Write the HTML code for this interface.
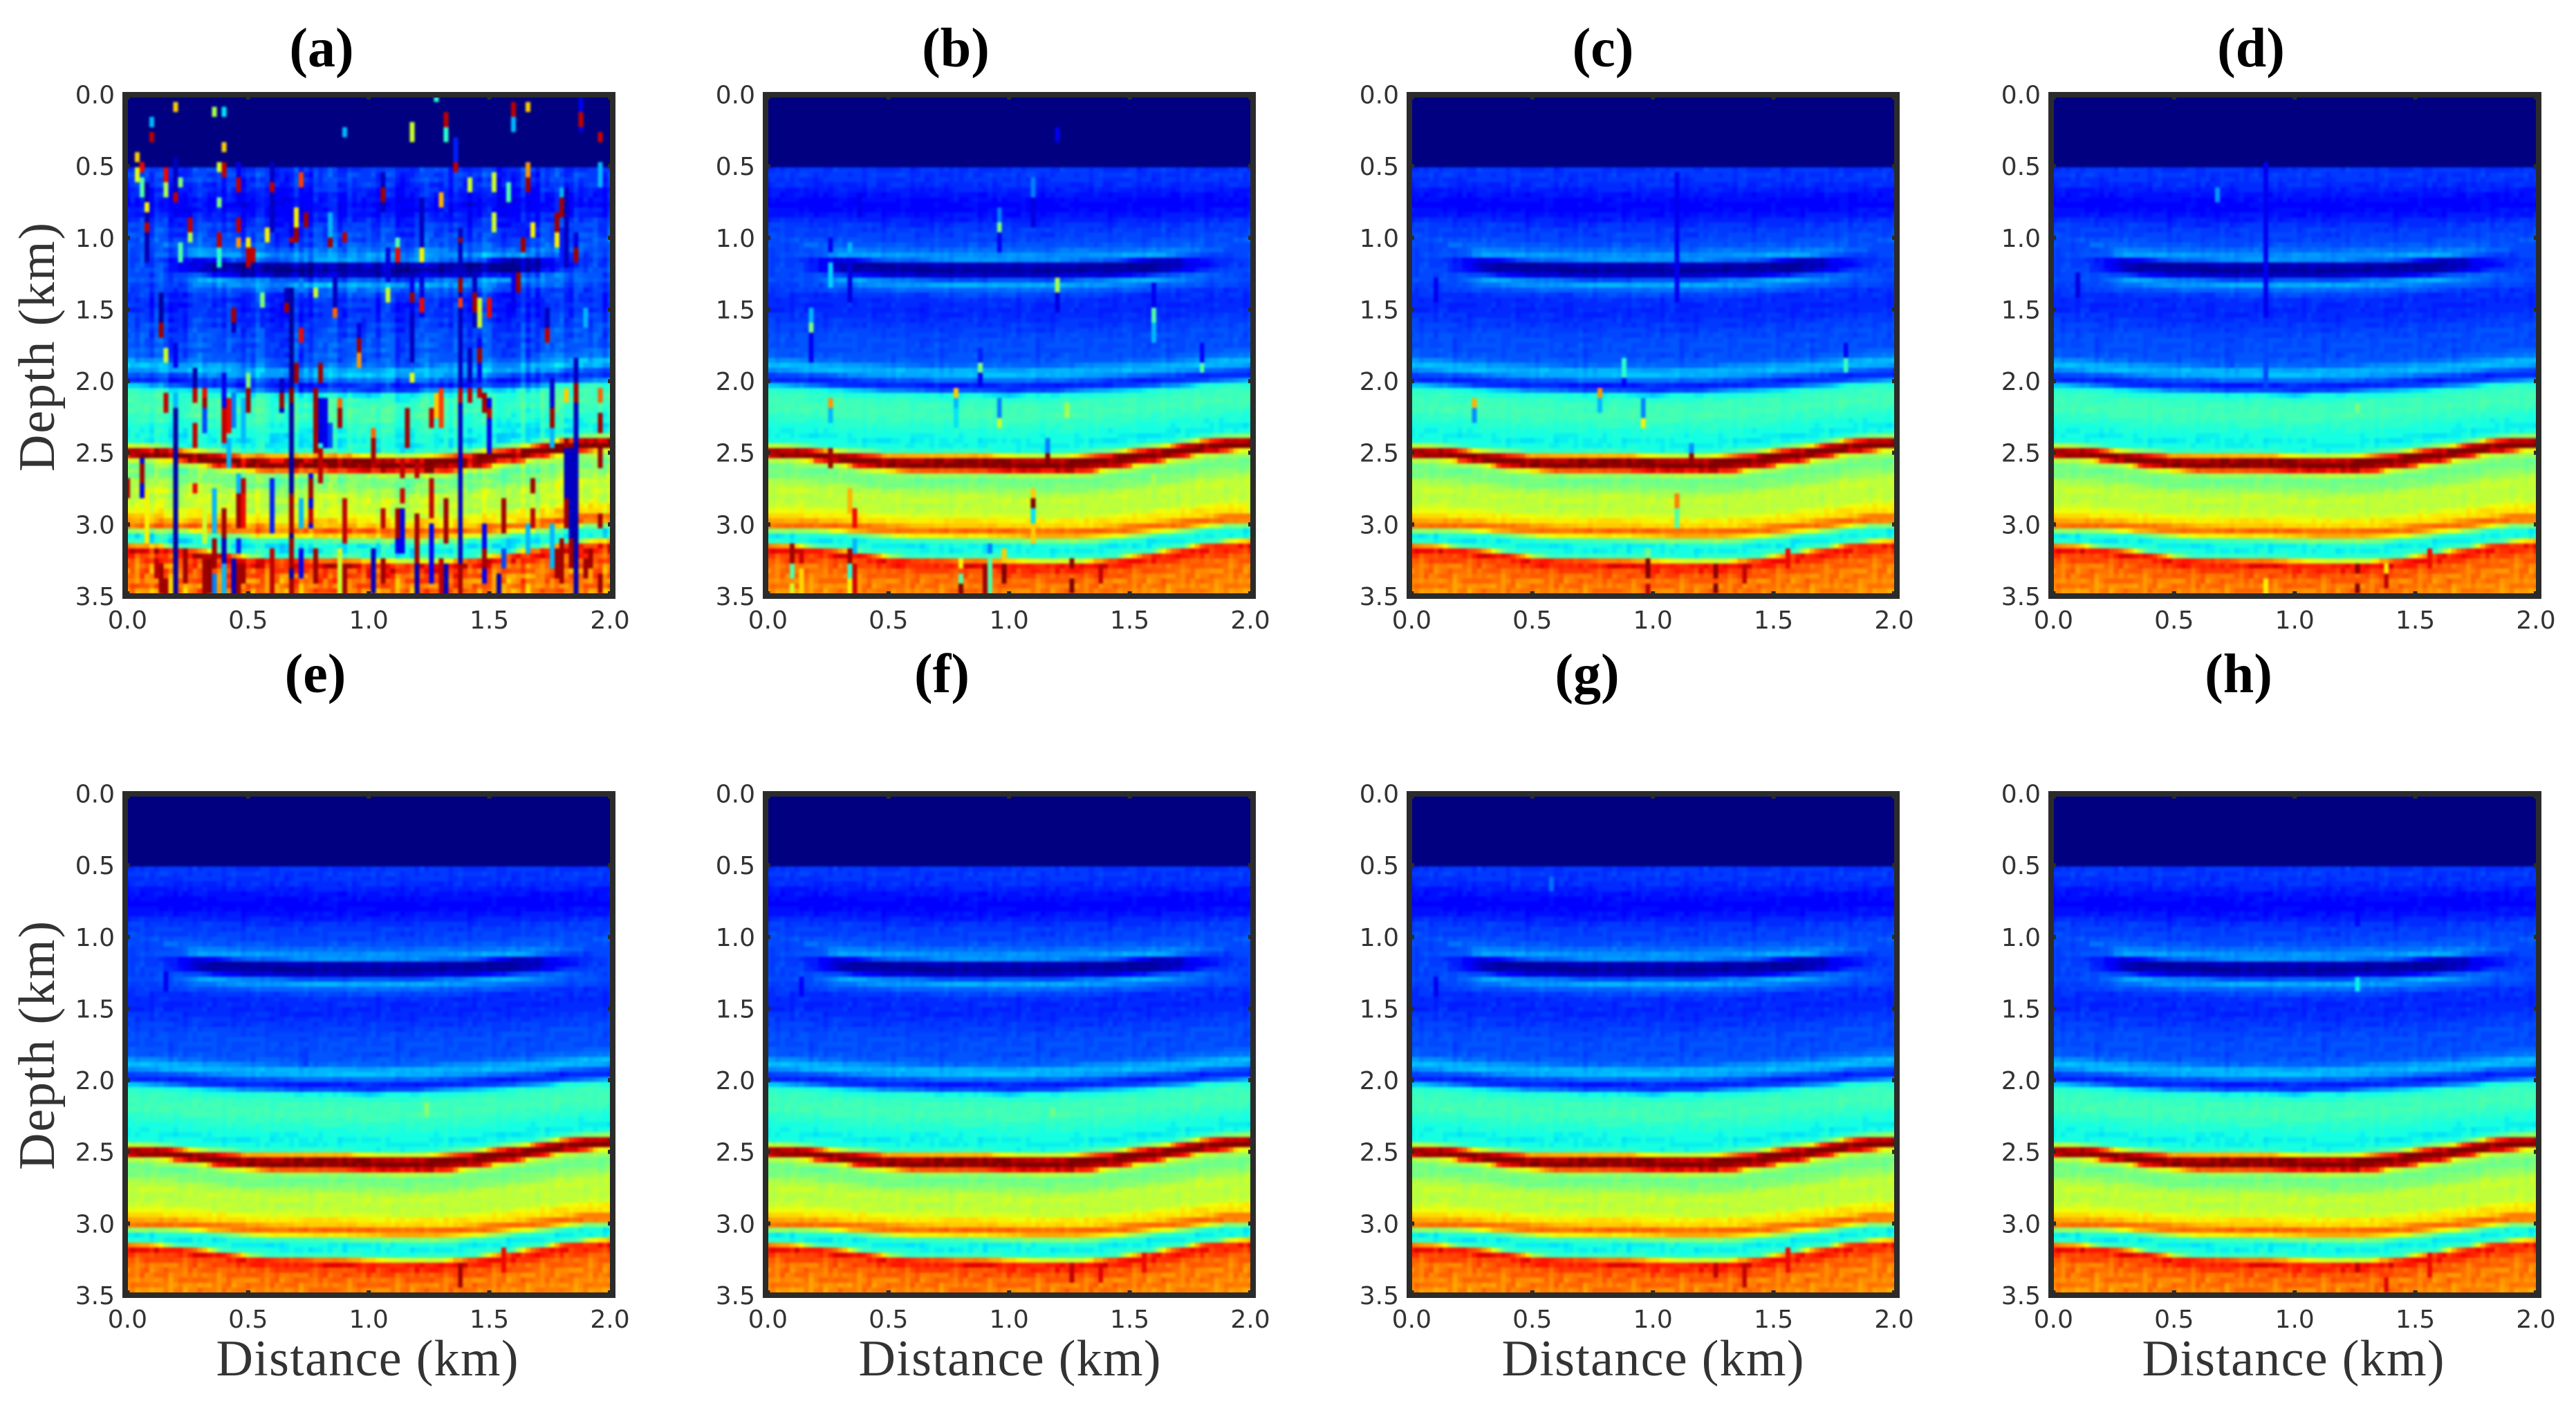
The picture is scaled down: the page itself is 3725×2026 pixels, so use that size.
<!DOCTYPE html>
<html lang="en">
<head>
<meta charset="utf-8">
<title>Seismic depth sections (a)-(h)</title>
<style>
html,body{margin:0;padding:0;background:#fff;}
svg{display:block;}
.tick{font-family:"DejaVu Sans","Liberation Sans",sans-serif;font-size:36px;fill:#333;}
.title{font-family:"Liberation Serif",serif;font-size:80px;font-weight:bold;fill:#000;text-anchor:middle;}
.axis{font-family:"Liberation Serif",serif;font-size:74px;fill:#333;text-anchor:middle;}
</style>
</head>
<body>
<svg id="figure" xmlns="http://www.w3.org/2000/svg" width="3725" height="2026" viewBox="0 0 3725 2026">
  <defs>
    <filter id="soften" color-interpolation-filters="sRGB"><feGaussianBlur stdDeviation="1.5"/></filter>
  </defs>
  <rect width="3725" height="2026" fill="#fff"/>
  <g id="panels"></g>
  <text class="title" x="465" y="96">(a)</text>
  <text class="title" x="1382" y="96">(b)</text>
  <text class="title" x="2318" y="96">(c)</text>
  <text class="title" x="3255" y="96">(d)</text>
  <text class="title" x="456" y="1001">(e)</text>
  <text class="title" x="1362" y="1001">(f)</text>
  <text class="title" x="2295" y="1001">(g)</text>
  <text class="title" x="3237" y="1001">(h)</text>
  <text class="axis" textLength="360" lengthAdjust="spacing" transform="translate(78,502) rotate(-90)">Depth (km)</text>
  <text class="axis" textLength="360" lengthAdjust="spacing" transform="translate(78,1512) rotate(-90)">Depth (km)</text>
  <text class="axis" x="531" y="1989" textLength="437" lengthAdjust="spacing">Distance (km)</text>
  <text class="axis" x="1460" y="1989" textLength="437" lengthAdjust="spacing">Distance (km)</text>
  <text class="axis" x="2390" y="1989" textLength="437" lengthAdjust="spacing">Distance (km)</text>
  <text class="axis" x="3316" y="1989" textLength="437" lengthAdjust="spacing">Distance (km)</text>
</svg>
<script>
/* ---------- tick labels ---------- */
const xTicks = [0, 0.5, 1, 1.5, 2];
const yTicks = [0, 0.5, 1, 1.5, 2, 2.5, 3, 3.5];

/* ---------- reference depth trace: value read along a vertical section ---------- */
const traceDepths = [0,.497,.503,.55,.62,.7,.78,.86,.92,1,1.05,1.1,1.13,1.15,1.165,1.19,1.23,1.25,1.27,1.3,1.34,1.4,1.5,1.6,1.7,1.8,1.86,1.9,1.93,1.97,2,2.03,2.05,2.07,2.12,2.2,2.28,2.36,2.41,2.43,2.44,2.45,2.46,2.47,2.49,2.5,2.51,2.52,2.535,2.54,2.56,2.6,2.66,2.72,2.76,2.82,2.88,2.92,2.96,2.985,3,3.015,3.03,3.05,3.07,3.1,3.14,3.165,3.18,3.19,3.2,3.22,3.26,3.32,3.5,3.7];
const traceValues = [0,0,.17,.18,.17,.14,.12,.15,.18,.19,.21,.26,.3,.2,.06,.025,.03,.08,.18,.31,.23,.17,.16,.18,.2,.2,.22,.3,.31,.22,.15,.17,.28,.38,.42,.43,.39,.36,.38,.52,.62,.85,.93,.97,1,1,.98,.95,.85,.65,.55,.48,.5,.57,.59,.57,.6,.66,.68,.78,.8,.79,.7,.55,.4,.36,.38,.42,.7,.82,.88,.89,.83,.79,.76,.76];

/* ---------- horizon depths (km) read every 0.1 km of distance ---------- */
const horizonDistances = [0,.1,.2,.3,.4,.5,.6,.7,.8,.9,1,1.1,1.2,1.3,1.4,1.5,1.6,1.7,1.8,1.9,2];
const seabedDepths = [.5,.5,.5,.5,.5,.5,.5,.5,.5,.5,.5,.5,.5,.5,.5,.5,.5,.5,.5,.5,.5];
const lensDepths = [1.17,1.17,1.18,1.19,1.2,1.21,1.21,1.22,1.22,1.22,1.22,1.22,1.22,1.21,1.21,1.2,1.19,1.18,1.17,1.16,1.15];
const greenTopDepths = [2.02,2.03,2.04,2.05,2.06,2.07,2.07,2.08,2.08,2.08,2.09,2.08,2.08,2.07,2.06,2.05,2.04,2.03,2.01,2,1.99];
const mainTopDepths = [2.455,2.46,2.475,2.49,2.505,2.515,2.515,2.515,2.515,2.515,2.52,2.525,2.525,2.515,2.505,2.48,2.46,2.44,2.41,2.395,2.39];
const mainBaseDepths = [2.535,2.54,2.56,2.58,2.61,2.625,2.63,2.63,2.63,2.63,2.64,2.645,2.645,2.64,2.62,2.595,2.57,2.54,2.51,2.49,2.48];
const lowerBandDepths = [3,3,3,3.01,3.02,3.03,3.04,3.04,3.04,3.04,3.045,3.05,3.05,3.05,3.04,3.03,3.01,3,2.98,2.96,2.96];
const deepBandDepths = [3.16,3.165,3.18,3.2,3.22,3.25,3.26,3.265,3.27,3.27,3.28,3.285,3.285,3.285,3.27,3.245,3.22,3.19,3.16,3.14,3.13];
const horizonReference = [.5,1.2,2.05,2.44,2.54,3,3.2];
const lensStrength = [0,0,.25,.9,1,1,1,1,1,1,1,1,1,1,1,1,1,.8,.4,.12,0];

/* ---------- small speckle table (typed values, -1..1) ---------- */
const speckle = [.4,-.7,.2,.9,-.3,-.9,.6,.1,-.5,.8,-.1,.3,-.8,.5,-.4,1,-.6,.2,-.2,.7,-1,.4,.1,-.7,.9,-.3,.6,-.5,.2,-.9,.8,0,-.4,.5,-.8,.3,.7,-.2,-.6,.9,-.1,.4,-.9,.6,.2,-.5,.3];
const speckleAmount = [.024,.012,.012,.012,.012,.012,.012,.012];
const stripeAmount = [.035,.007,.006,.005,.004,.004,.004,.004];

/* ---------- isolated trace artefacts per panel: [distance, fromDepth, toDepth, value] ---------- */
const spikesA = [[0,2.7,2.8,.97],[.04,.43,.47,.7],[.04,.52,.58,.62],[.06,.5,.53,.9],[.06,.58,.7,.45],[.06,2.55,2.8,.1],[.06,2.6,2.7,.97],[.08,.62,1.15,.04],[.08,.78,.8,.65],[.08,.9,.93,.95],[.08,2.75,3.1,.65],[.1,.16,.22,.3],[.1,.28,.32,.95],[.12,3.25,3.35,.95],[.14,1.4,1.65,.03],[.14,1.6,1.67,.97],[.14,3.3,3.45,.97],[.16,.54,.6,.9],[.16,.64,.7,.55],[.16,1.65,1.85,.2],[.16,1.8,1.86,.6],[.16,2.1,2.2,.95],[.16,3.4,3.5,.97],[.2,.07,.12,.7],[.2,.47,.75,.05],[.2,.7,.75,.95],[.2,1.75,1.9,.1],[.2,2.1,2.2,.3],[.2,2.22,3.5,.03],[.22,.58,.62,.5],[.22,1.05,1.16,.45],[.24,3.2,3.4,.97],[.26,.8,.93,.1],[.26,.88,.93,.95],[.26,.98,1.03,.55],[.28,1.93,2.12,.04],[.28,2.05,2.12,.95],[.28,2.3,2.45,.95],[.28,2.72,2.78,.9],[.32,2.05,2.1,.9],[.32,2.13,2.2,.97],[.32,2.2,2.35,.2],[.32,2.9,3.1,.6],[.32,3.25,3.5,.97],[.34,3.25,3.45,.98],[.36,.09,.14,.55],[.36,2.75,3.05,.3],[.36,3.1,3.3,.97],[.36,3.35,3.5,.25],[.38,.5,.54,.6],[.38,.72,.78,.5],[.38,.98,1.05,.95],[.38,1.1,1.2,.4],[.4,.1,.13,.35],[.4,.36,.4,.7],[.4,.5,.55,.95],[.4,1.95,2.2,.1],[.4,2.2,2.4,.95],[.4,2.9,3.1,.97],[.4,3.1,3.25,.05],[.4,3.3,3.5,.3],[.42,2.15,2.35,.9],[.42,2.4,2.6,.3],[.44,1.5,1.65,.05],[.44,1.52,1.56,.97],[.44,3.25,3.5,.05],[.44,2.1,2.3,.25],[.46,.5,.75,.1],[.46,.6,.65,.95],[.46,.88,.93,.95],[.46,1,1.06,.75],[.46,2.65,2.8,.3],[.46,2.8,3,.97],[.46,3.1,3.2,.15],[.46,3.3,3.5,.97],[.48,2.7,2.75,.95],[.48,2.8,3,.9],[.48,2.15,2.4,.3],[.48,3.3,3.4,.97],[.5,1.95,2.05,.5],[.5,2.08,2.2,.97],[.5,1,1.05,.65],[.5,1.1,1.18,.95],[.52,1.1,1.15,.95],[.56,1.4,1.5,.5],[.56,1.5,1.6,.15],[.58,.95,1.02,.65],[.6,.5,.95,.06],[.6,.62,.66,.95],[.6,2.7,3.05,.15],[.6,3.2,3.5,.94],[.64,2,2.2,.05],[.64,2.1,2.18,.97],[.66,1.35,1.5,.05],[.66,1.46,1.5,.97],[.68,.9,1.05,.1],[.68,1,1.02,.95],[.68,1.35,3.5,.03],[.68,2.05,2.12,1],[.68,2.8,3.05,.97],[.68,3.1,3.3,.97],[.68,3.4,3.5,.97],[.7,.82,.9,.65],[.7,.95,1.02,.97],[.7,1.9,1.98,.97],[.72,.55,.62,.85],[.72,1.3,1.38,.25],[.72,1.65,1.72,.9],[.72,2.85,3,.3],[.72,3.2,3.35,.1],[.74,.85,.92,.97],[.76,2.65,3,.1],[.76,2.7,2.8,.97],[.76,2.9,2.98,.95],[.78,1.35,1.4,.6],[.78,2.05,2.5,.97],[.78,3.2,3.4,.97],[.8,1.9,2,.97],[.8,2.15,2.4,.08],[.8,2.5,2.7,.95],[.82,2.15,2.45,.1],[.84,.85,1.05,.3],[.84,1,1.06,.97],[.84,2.3,2.45,.2],[.86,1.28,1.55,.05],[.86,1.5,1.55,.8],[.88,2.15,2.2,.8],[.88,2.2,2.3,.97],[.88,3.2,3.5,.6],[.9,.23,.27,.3],[.9,.95,1.1,.2],[.9,.98,1.02,.95],[.9,2.85,3.1,.95],[.9,3.3,3.5,.97],[.96,1.6,1.85,.08],[.96,1.72,1.77,.97],[.96,1.83,1.88,.75],[1.02,2.35,2.4,.8],[1.02,2.42,2.55,.97],[1.02,3.2,3.45,.05],[1.06,.55,.8,.05],[1.06,.65,.73,.97],[1.06,2.9,3,.95],[1.06,3.25,3.4,.97],[1.08,1.1,1.3,.08],[1.08,1.35,1.42,.6],[1.12,1,1.08,.45],[1.12,1.1,1.15,.9],[1.12,2.9,3.1,.97],[1.12,3.1,3.2,.1],[1.14,2.55,2.65,.95],[1.14,2.9,3.2,.1],[1.14,2.75,2.85,.93],[1.16,2.2,2.45,.97],[1.18,.2,.32,.6],[1.18,1.3,1.6,.1],[1.18,1.4,1.45,.97],[1.18,1.55,1.85,.05],[1.18,1.95,2,.62],[1.2,2.6,2.65,.95],[1.2,2.95,3.3,.97],[1.2,3.3,3.5,.04],[1.22,.75,1.05,.06],[1.22,1.1,1.15,.65],[1.22,1.3,1.55,.08],[1.22,1.45,1.52,.9],[1.26,2.2,2.3,.95],[1.26,2.7,2.95,.95],[1.26,3,3.4,.1],[1.28,.02,.05,.4],[1.28,2.1,2.25,.7],[1.3,.7,.78,.72],[1.3,2.05,2.3,.85],[1.3,3.25,3.5,.95],[1.32,.13,.3,.4],[1.32,.15,.2,.95],[1.32,2.85,3.1,.97],[1.32,3.3,3.5,.05],[1.36,.3,.52,.15],[1.36,.48,.53,.95],[1.38,.95,3.5,.05],[1.38,1,1.03,.97],[1.38,1.3,1.35,.97],[1.38,1.42,1.48,.85],[1.38,2.08,2.12,.95],[1.38,3.3,3.5,.97],[1.42,.58,.65,.6],[1.42,1.8,2,.05],[1.42,2.08,2.12,.95],[1.44,1.25,1.6,.05],[1.44,1.4,1.5,.97],[1.46,1.45,1.6,.6],[1.46,1.7,2,.1],[1.46,1.78,1.85,.97],[1.46,2.05,2.1,.95],[1.48,2.1,2.2,.97],[1.48,3,3.4,.1],[1.48,3.2,3.3,.97],[1.5,1.45,1.55,.9],[1.5,2.15,2.5,.1],[1.5,2.2,2.25,.95],[1.52,.55,.65,.6],[1.52,.85,.95,.6],[1.54,.6,.78,.1],[1.54,3.35,3.5,.04],[1.56,2.85,3.05,.97],[1.56,3.2,3.3,.2],[1.58,.62,.72,.45],[1.6,.08,.13,.95],[1.6,.17,.24,.3],[1.6,1.25,1.5,.1],[1.62,1.25,1.38,.97],[1.64,.9,1.1,.15],[1.64,1.02,1.07,.97],[1.66,.07,.12,.7],[1.66,.5,.55,.75],[1.66,.6,.65,.97],[1.66,3,3.2,.3],[1.68,.9,.98,.65],[1.68,2.7,2.78,.97],[1.68,2.9,3,.95],[1.72,1.45,1.6,.15],[1.74,1.52,1.7,.05],[1.74,1.65,1.7,.95],[1.76,2,2.4,.07],[1.76,2.2,2.3,.97],[1.76,2.35,2.45,.3],[1.76,3,3.3,.3],[1.78,.85,.95,.97],[1.78,.98,1.05,.65],[1.78,3.2,3.35,.97],[1.8,.65,.75,.3],[1.8,.75,.85,.97],[1.8,.95,1.15,.15],[1.8,3.1,3.4,.97],[1.82,.65,1.2,.05],[1.82,2.05,2.12,.7],[1.82,2.4,2.5,.97],[1.82,2.5,2.9,.05],[1.82,2.85,3,.97],[1.84,2.5,3.1,.05],[1.84,3.1,3.3,.97],[1.86,.98,1.15,.08],[1.86,1.1,1.16,.97],[1.86,1.85,2.95,.05],[1.86,2.03,2.15,.97],[1.86,2.98,3.5,.04],[1.88,.05,.25,.1],[1.88,.15,.2,.95],[1.9,1.5,1.6,.3],[1.9,3.25,3.35,.97],[1.92,3.2,3.3,.97],[1.96,.27,.33,.93],[1.96,.5,.62,.3],[1.96,2.05,2.15,.8],[1.96,2.25,2.35,.97],[1.96,2.5,2.6,.97],[1.96,2.93,3,.97],[1.96,3.35,3.45,.97]];
const spikesB = [[.1,3.15,3.28,.97],[.1,3.3,3.36,.45],[.1,3.42,3.46,.6],[.14,3.2,3.25,.93],[.14,3.32,3.5,.68],[.18,1.5,1.62,.3],[.18,1.62,1.68,.5],[.18,1.68,1.85,.1],[.26,1,1.1,.1],[.26,1.18,1.32,.33],[.26,2.15,2.18,.75],[.26,2.22,2.28,.3],[.26,2.5,2.6,.97],[.34,1.05,1.1,.3],[.34,1.15,1.45,.08],[.34,2.75,2.9,.72],[.34,3.18,3.26,.97],[.34,3.28,3.36,.4],[.34,3.4,3.5,.65],[.36,2.9,3,.9],[.36,3.1,3.18,.3],[.36,3.3,3.5,.93],[.38,.7,.85,.1],[.78,2.07,2.12,.7],[.78,2.14,2.22,.3],[.78,2.22,2.3,.35],[.8,3.25,3.3,.65],[.8,3.35,3.42,.45],[.8,3.44,3.5,1],[.88,1.78,1.88,.15],[.88,1.9,1.96,.5],[.88,1.97,2.03,.1],[.9,3.3,3.5,.97],[.92,3.14,3.2,.25],[.92,3.25,3.45,.45],[.96,.8,.9,.25],[.96,.92,.98,.5],[.96,.98,1.1,.1],[.96,2.15,2.25,.25],[.96,2.26,2.32,.6],[.98,3.2,3.3,.7],[.98,3.3,3.4,1],[1.1,.6,.75,.25],[1.1,.75,.9,.08],[1.1,2.75,2.8,.7],[1.1,2.85,2.9,1],[1.1,2.92,3.05,.35],[1.1,3,3.1,.7],[1.16,2.42,2.5,.25],[1.16,2.52,2.6,1],[1.2,.25,.32,.1],[1.2,1.3,1.36,.55],[1.2,1.4,1.5,.08],[1.24,2.18,2.25,.55],[1.26,3.25,3.3,.98],[1.26,3.4,3.46,1],[1.38,3.3,3.4,.95],[1.6,1.32,1.5,.1],[1.6,1.5,1.56,.45],[1.6,1.6,1.7,.3],[1.6,2.65,2.8,.55],[1.8,1.76,1.9,.12],[1.8,1.88,1.94,.45],[2,2.7,2.9,.6]];
const spikesC = [[.1,1.3,1.42,.1],[.26,2.13,2.17,.72],[.26,2.2,2.26,.27],[.78,2.08,2.12,.75],[.78,2.14,2.2,.3],[.88,1.85,1.98,.4],[.88,1.98,2.03,.12],[.96,2.15,2.25,.25],[.96,2.26,2.32,.65],[.98,3.2,3.25,.5],[.98,3.27,3.35,1],[.98,3.42,3.5,.95],[1.1,.55,1.45,.1],[1.1,2.8,2.87,.78],[1.1,2.9,3,.45],[1.16,2.45,2.5,.27],[1.16,2.52,2.6,.98],[1.26,3.3,3.35,.98],[1.26,3.42,3.48,1],[1.38,3.28,3.38,.95],[1.56,3.2,3.3,.9],[1.8,1.75,1.85,.1],[1.8,1.85,1.92,.42]];
const spikesD = [[.1,1.25,1.4,.09],[.68,.68,.72,.28],[.74,1.75,1.9,.2],[.88,.5,1.55,.1],[.88,1.75,2.05,.2],[.88,3.38,3.5,.65],[1.26,2.17,2.22,.5],[1.26,3.28,3.34,.98],[1.26,3.42,3.47,1],[1.38,3.28,3.33,.65],[1.38,3.36,3.42,.95],[1.56,3.2,3.3,.9]];
const spikesE = [[.74,1.78,1.9,.18],[1.24,2.18,2.24,.52],[1.38,3.3,3.42,.97],[1.56,3.2,3.32,.9],[.16,1.25,1.38,.1]];
const spikesF = [[.14,1.3,1.4,.12],[1.18,2.2,2.25,.48],[1.26,3.3,3.38,.95],[1.38,3.3,3.4,.92],[1.56,3.22,3.32,.9]];
const spikesG = [[.1,1.28,1.4,.1],[.58,.6,.68,.24],[1.26,3.3,3.36,.95],[1.38,3.3,3.42,.95],[1.56,3.2,3.32,.9]];
const spikesH = [[1.25,.75,.9,.12],[1.26,1.3,1.35,.36],[1.26,3.28,3.34,.95],[1.38,3.4,3.45,.92],[1.56,3.22,3.35,.9]];
const panelSpikes = [spikesA, spikesB, spikesC, spikesD, spikesE, spikesF, spikesG, spikesH];

/* ---------- layout ---------- */
const panelKeys = ['a','b','c','d','e','f','g','h'];
const frameLefts = [177,1103,2034,2962,177,1103,2034,2962];
const frameTops = [133,133,133,133,1144,1144,1144,1144];
const FRAME_W = 713, FRAME_H = 733, FRAME_STROKE = 8, FRAME_COLOR = '#2b2b2b';
const DISTANCE_MAX = 2, DEPTH_MAX = 3.5, CELL_COUNT = 100;
const NS = 'http://www.w3.org/2000/svg';

function lookup(xs, ys, x) {
  if (x <= xs[0]) return ys[0];
  for (let i = 1; i < xs.length; i++) {
    if (x <= xs[i]) {
      const t = (x - xs[i-1]) / (xs[i] - xs[i-1]);
      return ys[i-1] + t * (ys[i] - ys[i-1]);
    }
  }
  return ys[ys.length-1];
}
function ramp(v, pts) {
  return lookup(pts[0], pts[1], v);
}
function jet(v) {
  const r = ramp(v, [[0,.35,.66,.89,1],[0,0,1,1,.5]]);
  const g = ramp(v, [[0,.125,.375,.64,.91,1],[0,0,1,1,0,0]]);
  const b = ramp(v, [[0,.11,.34,.65,1],[.5,1,1,0,0]]);
  return 'rgb(' + Math.round(r*255) + ',' + Math.round(g*255) + ',' + Math.round(b*255) + ')';
}
function referenceDepth(depth, distance) {
  const now = [seabedDepths, lensDepths, greenTopDepths, mainTopDepths, mainBaseDepths, lowerBandDepths, deepBandDepths]
    .map(function (h) { return lookup(horizonDistances, h, distance); });
  if (depth <= now[0]) return depth;
  if (depth >= now[now.length-1]) return horizonReference[now.length-1] + depth - now[now.length-1];
  return lookup(now, horizonReference, depth);
}
function sectionValue(col, row, distance, depth, panel) {
  const ref = referenceDepth(depth, distance);
  let v = lookup(traceDepths, traceValues, ref);
  if (ref > 1.07 && ref < 1.37) {
    const s = lookup(horizonDistances, lensStrength, distance);
    v = .19 + s * (v - .19);
  }
  if (depth > .5) {
    let deep = 1;
    if (ref > 3.21) deep = 3;
    else if (ref > 2.46 && ref < 2.53) deep = 3;
    else if (ref > 2.55) deep = 1.5;
    v += speckle[(col*17 + row*29) % speckle.length] * speckleAmount[panel] * deep;
    v += speckle[(col*11) % speckle.length] * stripeAmount[panel];
  }
  return Math.max(0, Math.min(1, v));
}

function drawPanel(root, panel) {
  const key = panelKeys[panel];
  const left = frameLefts[panel], top = frameTops[panel];
  const x0 = left + 7.4, x1 = left + 705;
  const y0 = top + 3.6, y1 = top + 729;
  const sx = function (d) { return x0 + (d / DISTANCE_MAX) * (x1 - x0); };
  const sy = function (d) { return y0 + (d / DEPTH_MAX) * (y1 - y0); };
  const dx = DISTANCE_MAX / CELL_COUNT, dy = DEPTH_MAX / CELL_COUNT;

  const g = document.createElementNS(NS, 'g');
  
  
  root.appendChild(g);

  const clip = document.createElementNS(NS, 'clipPath');
  clip.setAttribute('id', 'clip-' + key);
  const clipRect = document.createElementNS(NS, 'rect');
  clipRect.setAttribute('x', left + 4);
  clipRect.setAttribute('y', top + 4);
  clipRect.setAttribute('width', FRAME_W - 8);
  clipRect.setAttribute('height', FRAME_H - 8);
  clip.appendChild(clipRect);
  g.appendChild(clip);

  /* overlay of isolated artefacts */
  const overlay = {};
  panelSpikes[panel].forEach(function (s) {
    const c = Math.round(s[0] / dx);
    const r0 = Math.round(s[1] / dy);
    const r1 = Math.max(r0, Math.round(s[2] / dy));
    for (let r = r0; r <= r1; r++) overlay[c + ':' + r] = s[3];
  });

  const clipGroup = document.createElementNS(NS, 'g');
  clipGroup.setAttribute('clip-path', 'url(#clip-' + key + ')');
  
  
  g.appendChild(clipGroup);
  const cells = document.createElementNS(NS, 'g');
  cells.setAttribute('filter', 'url(#soften)');
  cells.setAttribute('shape-rendering', 'crispEdges');
  clipGroup.appendChild(cells);

  const levels = 72;
  for (let r = 0; r <= CELL_COUNT; r++) {
    const depth = r * dy;
    let top0 = sy(depth - dy/2), bot0 = sy(depth + dy/2);
    if (r === 0) top0 -= 10;
    if (r === CELL_COUNT) bot0 += 10;
    let runStart = 0, runLevel = -1;
    for (let c = 0; c <= CELL_COUNT + 1; c++) {
      let level = -2;
      if (c <= CELL_COUNT) {
        const key2 = c + ':' + r;
        const v = overlay[key2] !== undefined ? overlay[key2] : sectionValue(c, r, c * dx, depth, panel);
        level = Math.round(v * levels);
      }
      if (level !== runLevel) {
        if (runLevel >= 0) {
          let a = sx(runStart * dx - dx/2), b = sx((c - 1) * dx + dx/2);
          if (runStart === 0) a -= 10;
          if (c - 1 === CELL_COUNT) b += 10;
          const el = document.createElementNS(NS, 'rect');
          el.setAttribute('x', a.toFixed(2));
          el.setAttribute('y', top0.toFixed(2));
          el.setAttribute('width', (b - a + .4).toFixed(2));
          el.setAttribute('height', (bot0 - top0 + .4).toFixed(2));
          el.setAttribute('fill', jet(runLevel / levels));
          
          
          cells.appendChild(el);
        }
        runStart = c;
        runLevel = level;
      }
    }
  }

  /* frame */
  const frame = document.createElementNS(NS, 'rect');
  frame.setAttribute('x', left + FRAME_STROKE/2);
  frame.setAttribute('y', top + FRAME_STROKE/2);
  frame.setAttribute('width', FRAME_W - FRAME_STROKE);
  frame.setAttribute('height', FRAME_H - FRAME_STROKE);
  frame.setAttribute('fill', 'none');
  frame.setAttribute('stroke', FRAME_COLOR);
  frame.setAttribute('stroke-width', FRAME_STROKE);
  
  
  g.appendChild(frame);

  /* x ticks and labels */
  xTicks.forEach(function (t) {
    [top + 8, top + FRAME_H - 11].forEach(function (yy) {
      const m = document.createElementNS(NS, 'rect');
      m.setAttribute('x', (sx(t) - 3).toFixed(1));
      m.setAttribute('y', yy);
      m.setAttribute('width', 6);
      m.setAttribute('height', 3);
      m.setAttribute('fill', FRAME_COLOR);
      
      
      g.appendChild(m);
    });
    const lab = document.createElementNS(NS, 'text');
    lab.setAttribute('class', 'tick');
    lab.setAttribute('x', sx(t).toFixed(1));
    lab.setAttribute('y', top + 776);
    lab.setAttribute('text-anchor', 'middle');
    
    
    lab.textContent = t.toFixed(1);
    g.appendChild(lab);
  });

  /* y ticks and labels */
  yTicks.forEach(function (t) {
    [left + 8, left + FRAME_W - 11].forEach(function (xx) {
      const m = document.createElementNS(NS, 'rect');
      m.setAttribute('x', xx);
      m.setAttribute('y', (sy(t) - 3).toFixed(1));
      m.setAttribute('width', 3);
      m.setAttribute('height', 6);
      m.setAttribute('fill', FRAME_COLOR);
      
      
      g.appendChild(m);
    });
    const lab = document.createElementNS(NS, 'text');
    lab.setAttribute('class', 'tick');
    lab.setAttribute('x', left - 11);
    lab.setAttribute('y', (sy(t) + 13).toFixed(1));
    lab.setAttribute('text-anchor', 'end');
    
    
    lab.textContent = t.toFixed(1);
    g.appendChild(lab);
  });
}

const panelsRoot = document.getElementById('panels');
panelKeys.forEach(function (k, i) { drawPanel(panelsRoot, i); });
</script>
</body>
</html>
